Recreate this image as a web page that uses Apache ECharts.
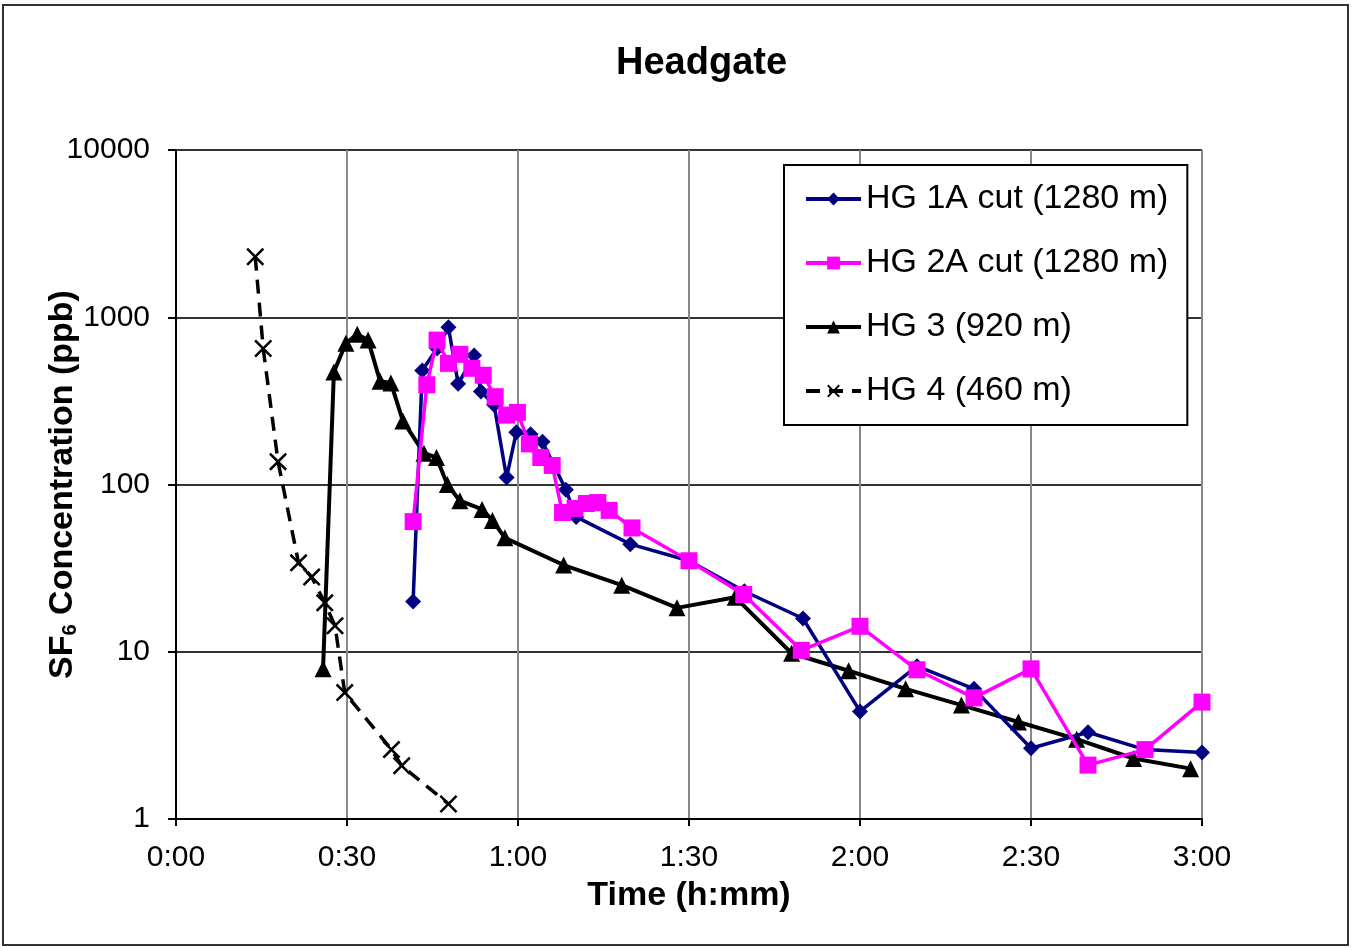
<!DOCTYPE html>
<html>
<head>
<meta charset="utf-8">
<title>Headgate</title>
<script src="https://cdn.jsdelivr.net/npm/echarts@6/dist/echarts.min.js"></script>
<style>
  html, body { margin: 0; padding: 0; background: #fff; }
  #main { width: 1355px; height: 948px; }
</style>
</head>
<body>
<div id="main"></div>
<script>
// time in minutes after release, concentration in ppb
var seriesNames = ['HG 1A cut (1280 m)', 'HG 2A cut (1280 m)', 'HG 3 (920 m)', 'HG 4 (460 m)'];

var hg1aTime = [41.6, 43.2, 45.8, 47.8, 49.5, 52.3, 53.5, 55.8, 58, 59.7, 62.2, 64.3, 68.4, 70.2, 79.7, 90, 99.7, 110, 120, 130, 140, 150, 160, 170, 180];
var hg1aConc = [20, 480, 650, 870, 400, 590, 360, 300, 110, 205, 200, 180, 93, 64, 44, 35, 23, 15.8, 4.4, 8.2, 6.0, 2.65, 3.3, 2.6, 2.5];

var hg2aTime = [41.6, 44, 45.8, 47.8, 49.8, 51.9, 53.9, 56, 58, 59.9, 62, 64, 66, 67.8, 70, 72, 74, 76, 80, 90, 99.6, 109.7, 120, 130, 140, 150, 160, 170, 180];
var hg2aConc = [60, 395, 730, 530, 600, 495, 450, 335, 260, 270, 175, 145, 130, 68, 72, 77, 78, 70, 55, 35, 22, 10.2, 14.2, 7.8, 5.3, 7.9, 2.1, 2.6, 5.0];

var hg3Time = [25.8, 27.7, 29.8, 31.8, 33.7, 35.8, 37.7, 39.8, 43.5, 45.7, 47.6, 49.8, 53.7, 55.5, 57.7, 68, 78.2, 87.9, 98.1, 108, 118, 128, 137.8, 147.8, 158, 168, 178];
var hg3Conc = [7.9, 470, 700, 790, 730, 415, 405, 240, 154, 145, 100, 80, 71, 61, 48, 33, 25, 18.3, 21.2, 9.8, 7.7, 6.0, 4.8, 3.8, 3.0, 2.3, 2.0];

var hg4Time = [13.9, 15.3, 17.9, 21.5, 23.8, 26.1, 27.9, 29.6, 37.8, 39.6, 47.8];
var hg4Conc = [2300, 650, 137, 34, 28, 19.6, 14.3, 5.7, 2.6, 2.08, 1.23];

function pairs(t, c) {
    var out = [];
    for (var i = 0; i < t.length; i++) {
        out.push([t[i], c[i]]);
    }
    return out;
}

function hmm(v) {
    var h = Math.floor(v / 60);
    var m = Math.round(v % 60);
    return h + ':' + (m < 10 ? '0' + m : m);
}

var crossPath = 'path://M0,1 L1,0 L5,4 L9,0 L10,1 L6,5 L10,9 L9,10 L5,6 L1,10 L0,9 L4,5 Z';

var myChart = echarts.init(document.getElementById('main'));

var option = {
    animation: false,
    backgroundColor: '#fff',
    textStyle: { fontFamily: 'Liberation Sans, Arial, sans-serif' },
    title: {
        text: 'Headgate',
        left: 611,
        top: 40,
        textStyle: { fontSize: 38, fontWeight: 'bold', color: '#000', fontFamily: 'Liberation Sans' }
    },
    graphic: [{
        type: 'rect',
        shape: { x: 3, y: 5, width: 1345, height: 940 },
        style: { fill: 'none', stroke: '#333', lineWidth: 2 },
        silent: true
    }],
    grid: { left: 176, right: 153, top: 150, bottom: 129, containLabel: false },
    legend: {
        orient: 'vertical',
        left: 784,
        top: 165,
        width: 405,
        padding: [17, 19, 17, 20],
        itemWidth: 55,
        itemHeight: 16,
        itemGap: 30,
        backgroundColor: '#fff',
        borderColor: '#000',
        borderWidth: 2,
        data: seriesNames,
        lineStyle: { width: 4 },
        textStyle: { fontSize: 34, color: '#000', fontFamily: 'Liberation Sans' }
    },
    xAxis: {
        type: 'value',
        min: 0,
        max: 180,
        interval: 30,
        name: 'Time (h:mm)',
        nameLocation: 'middle',
        nameGap: 60,
        nameMoveOverlap: false,
        nameTextStyle: { fontSize: 34, fontWeight: 'bold', color: '#000' },
        axisLine: { lineStyle: { color: '#000', width: 2 } },
        axisTick: { show: true, length: 7, inside: false, lineStyle: { color: '#000', width: 2 } },
        axisLabel: { fontSize: 30, color: '#000', margin: 24, formatter: function (v) { return hmm(v); } },
        splitLine: { show: true, lineStyle: { color: '#888', width: 2 } }
    },
    yAxis: {
        type: 'log',
        logBase: 10,
        min: 1,
        max: 10000,
        name: '{b|SF}{s|6}{b| Concentration (ppb)}',
        nameLocation: 'middle',
        nameGap: 96,
        nameMoveOverlap: false,
        nameTextStyle: {
            color: '#000',
            rich: {
                b: { fontSize: 34, fontWeight: 'bold', color: '#000', fontFamily: 'Liberation Sans', lineHeight: 40, verticalAlign: 'bottom' },
                s: { fontSize: 20, fontWeight: 'bold', color: '#000', fontFamily: 'Liberation Sans', lineHeight: 40, verticalAlign: 'bottom' }
            }
        },
        axisLine: { show: true, lineStyle: { color: '#000', width: 2 } },
        axisTick: { show: true, length: 8, lineStyle: { color: '#000', width: 2 } },
        axisLabel: { fontSize: 30, color: '#000', margin: 26, formatter: function (v) { return String(v); } },
        minorTick: { show: false },
        splitLine: { show: true, lineStyle: { color: '#333', width: 2 } }
    },
    series: [
        {
            name: seriesNames[0],
            type: 'line',
            data: pairs(hg1aTime, hg1aConc),
            symbol: 'diamond',
            symbolSize: 16,
            showAllSymbol: true,
            itemStyle: { color: '#000080' },
            lineStyle: { color: '#000080', width: 3.5 },
            z: 3
        },
        {
            name: seriesNames[1],
            type: 'line',
            data: pairs(hg2aTime, hg2aConc),
            symbol: 'rect',
            symbolSize: 17,
            showAllSymbol: true,
            itemStyle: { color: '#ff00ff' },
            lineStyle: { color: '#ff00ff', width: 3.5 },
            z: 4
        },
        {
            name: seriesNames[2],
            type: 'line',
            data: pairs(hg3Time, hg3Conc),
            symbol: 'triangle',
            symbolSize: 17,
            showAllSymbol: true,
            itemStyle: { color: '#000' },
            lineStyle: { color: '#000', width: 4 },
            z: 2
        },
        {
            name: seriesNames[3],
            type: 'line',
            data: pairs(hg4Time, hg4Conc),
            symbol: crossPath,
            symbolSize: 18,
            showAllSymbol: true,
            itemStyle: { color: '#000' },
            lineStyle: { color: '#000', width: 3.5, type: [14, 9] },
            z: 2
        }
    ]
};

myChart.setOption(option);
</script>
</body>
</html>
